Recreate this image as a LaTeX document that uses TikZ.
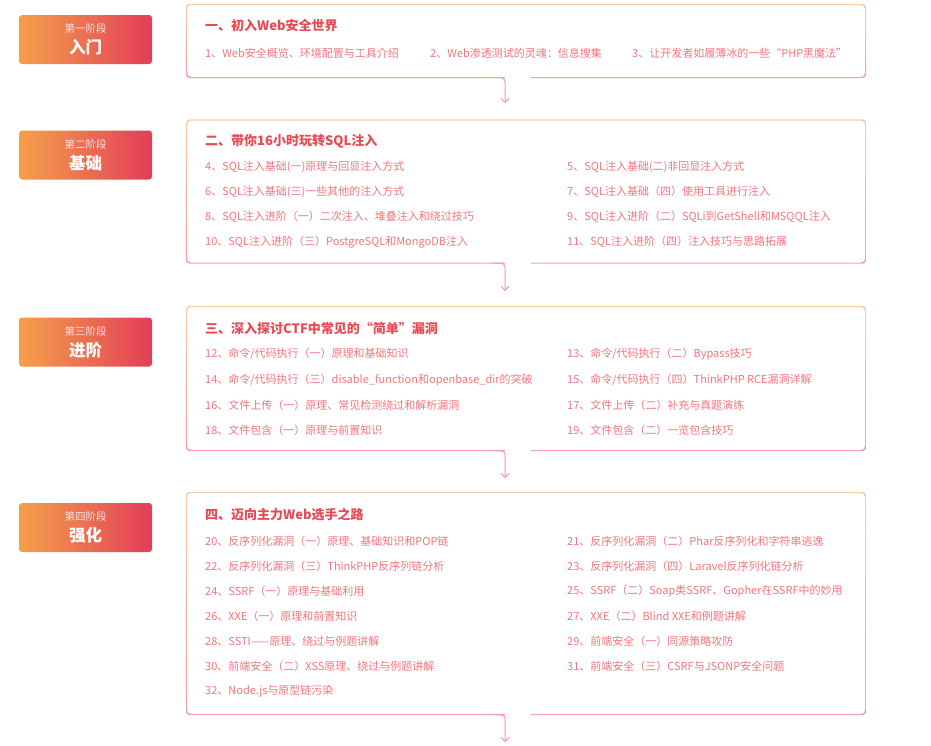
\documentclass[tikz,border=0pt]{standalone}
\usepackage{fontspec}
\setmainfont{Noto Sans CJK SC}
\usepackage{xcolor}
\usepackage{tikz}
\usetikzlibrary{arrows.meta,positioning,calc}
\definecolor{cStageL}{HTML}{F4A04A}
\definecolor{cStageR}{HTML}{E23E58}
\definecolor{cEdgeTop}{HTML}{F8CDA4}
\definecolor{cEdgeBot}{HTML}{F4A0A6}
\definecolor{cHead}{HTML}{E84A55}
\definecolor{cItem}{HTML}{F0767E}
\definecolor{cLink}{HTML}{F29AA2}
\tikzset{
  stage/.style ={rectangle, rounded corners=3pt, minimum width=133pt, minimum height=49pt,
                 left color=cStageL, right color=cStageR, text=white, align=center, inner sep=0pt},
  panel/.style ={rectangle, minimum width=680pt, inner sep=0pt},
  head/.style  ={anchor=west, inner sep=0pt, font=\fontsize{13}{15}\selectfont\bfseries, text=cHead},
  item/.style  ={anchor=west, inner sep=0pt, font=\fontsize{11}{12}\selectfont, text=cItem},
  link/.style  ={-{Straight Barb[length=4pt,width=8pt]}, line width=1pt, draw=cLink, rounded corners=4pt},
}
\newcommand{\stagetext}[2]{{\fontsize{10.5}{12}\selectfont\color{white!85!cStageR}#1}\\[5pt]{\fontsize{16.5}{18}\selectfont\bfseries #2}}
\newcommand{\panelframe}[1]{%
  \shade[top color=cEdgeTop, bottom color=cEdgeBot, even odd rule, rounded corners=4pt]
    (#1.south west) rectangle (#1.north east)
    ([shift={(1.2pt,1.2pt)}]#1.south west) rectangle ([shift={(-1.2pt,-1.2pt)}]#1.north east);}

\begin{document}
\begin{tikzpicture}[x=1pt, y=1pt]
  \useasboundingbox[fill=white] (0,0) rectangle (931,-745);
  % stage labels
  \node[stage] (s1) at (85.5,-39.5){\stagetext{第一阶段}{入门}};
  \node[stage] (s2) at (85.5,-155){\stagetext{第二阶段}{基础}};
  \node[stage] (s3) at (85.5,-342){\stagetext{第三阶段}{进阶}};
  \node[stage] (s4) at (85.5,-527.5){\stagetext{第四阶段}{强化}};
  % panels
  \node[panel, minimum height=74pt]  (b1) at (526,-41){};
  \node[panel, minimum height=144pt] (b2) at (526,-191.5){};
  \node[panel, minimum height=145pt] (b3) at (526,-378.5){};
  \node[panel, minimum height=223pt] (b4) at (526,-603.5){};
  \foreach \b in {b1,b2,b3,b4}{\panelframe{\b}}
  % arrow ends
  \coordinate (e1) at (505,-103);
  \coordinate (e2) at (505,-291);
  \coordinate (e3) at (505,-478);
  \coordinate (e4) at (505,-742);
  \foreach \i in {1,2,3,4}{
    \fill[white] ([yshift=-2pt]b\i.south -| e\i) rectangle ([shift={(26pt,2pt)}]b\i.south -| e\i);
    \draw[link] ([xshift=-12pt,yshift=0.6pt]b\i.south -| e\i) -- ([yshift=0.6pt]b\i.south -| e\i) -- (e\i);
  }
  % panel 1
  \node[head] (h1) at (205,-26){一、初入Web安全世界};
  \node[item] (t1) at (205,-53){1、Web安全概览、环境配置与工具介绍};
  \node[item] (t2) at (430,-53){2、Web渗透测试的灵魂：信息搜集};
  \node[item] (t3) at (632,-53){3、让开发者如履薄冰的一些“PHP黑魔法”};
  % panel 2
  \node[head] (h2) at (205,-141){二、带你16小时玩转SQL注入};
  \node[item] (t4)  at (205,-167){4、SQL注入基础(一)原理与回显注入方式};
  \node[item] (t5)  at (567,-167){5、SQL注入基础(二)非回显注入方式};
  \node[item] (t6)  at (205,-192){6、SQL注入基础(三)一些其他的注入方式};
  \node[item] (t7)  at (567,-192){7、SQL注入基础（四）使用工具进行注入};
  \node[item] (t8)  at (205,-217){8、SQL注入进阶（一）二次注入、堆叠注入和绕过技巧};
  \node[item] (t9)  at (567,-217){9、SQL注入进阶（二）SQLi到GetShell和MSQQL注入};
  \node[item] (t10) at (205,-242){10、SQL注入进阶（三）PostgreSQL和MongoDB注入};
  \node[item] (t11) at (567,-242){11、SQL注入进阶（四）注入技巧与思路拓展};
  % panel 3
  \node[head] (h3) at (205,-328){三、深入探讨CTF中常见的“简单”漏洞};
  \node[item] (t12) at (205,-354){12、命令/代码执行（一）原理和基础知识};
  \node[item] (t13) at (567,-354){13、命令/代码执行（二）Bypass技巧};
  \node[item] (t14) at (205,-380){14、命令/代码执行（三）disable\_function和openbase\_dir的突破};
  \node[item] (t15) at (567,-380){15、命令/代码执行（四）ThinkPHP RCE漏洞详解};
  \node[item] (t16) at (205,-405){16、文件上传（一）原理、常见检测绕过和解析漏洞};
  \node[item] (t17) at (567,-405){17、文件上传（二）补充与真题演练};
  \node[item] (t18) at (205,-430){18、文件包含（一）原理与前置知识};
  \node[item] (t19) at (567,-430){19、文件包含（二）一览包含技巧};
  % panel 4
  \node[head] (h4) at (205,-515){四、迈向主力Web选手之路};
  \node[item] (t20) at (205,-541){20、反序列化漏洞（一）原理、基础知识和POP链};
  \node[item] (t21) at (567,-541){21、反序列化漏洞（二）Phar反序列化和字符串逃逸};
  \node[item] (t22) at (205,-566){22、反序列化漏洞（三）ThinkPHP反序列链分析};
  \node[item] (t23) at (567,-566){23、反序列化漏洞（四）Laravel反序列化链分析};
  \node[item] (t24) at (205,-591){24、SSRF（一）原理与基础利用};
  \node[item] (t25) at (567,-591){25、SSRF（二）Soap类SSRF、Gopher在SSRF中的妙用};
  \node[item] (t26) at (205,-616){26、XXE（一）原理和前置知识};
  \node[item] (t27) at (567,-616){27、XXE（二）Blind XXE和例题讲解};
  \node[item] (t28) at (205,-641){28、SSTI——原理、绕过与例题讲解};
  \node[item] (t29) at (567,-641){29、前端安全（一）同源策略攻防};
  \node[item] (t30) at (205,-666){30、前端安全（二）XSS原理、绕过与例题讲解};
  \node[item] (t31) at (567,-666){31、前端安全（三）CSRF与JSONP安全问题};
  \node[item] (t32) at (205,-691){32、Node.js与原型链污染};
\end{tikzpicture}
\end{document}
